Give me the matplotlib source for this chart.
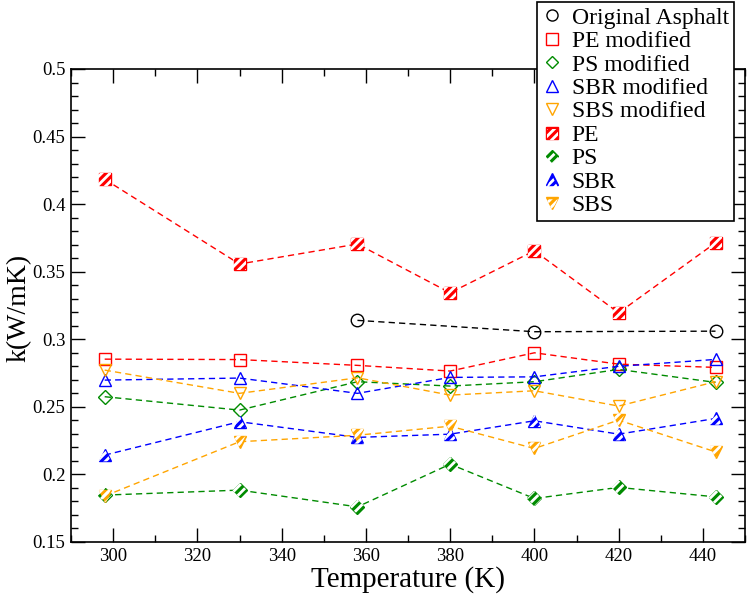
import numpy as np
import matplotlib
matplotlib.use("Agg")
import matplotlib.pyplot as plt
from matplotlib.lines import Line2D
from matplotlib.legend_handler import HandlerTuple
from matplotlib.ticker import MultipleLocator, FuncFormatter

plt.rcParams['font.family'] = ['Liberation Serif', 'DejaVu Serif']
plt.rcParams['hatch.linewidth'] = 2.0
plt.rcParams['hatch.color'] = 'white'

temps = [298, 330, 358, 380, 400, 420, 443]
orig_temps = [358, 400, 443]
orig = [0.314, 0.3056, 0.306]

pe_mod = [0.2853, 0.285, 0.2807, 0.2765, 0.290, 0.2816, 0.2792]
ps_mod = [0.2575, 0.2476, 0.2686, 0.2654, 0.2686, 0.2777, 0.2681]
sbr_mod = [0.2698, 0.2713, 0.260, 0.2718, 0.2722, 0.280, 0.2851]
sbs_mod = [0.2772, 0.260, 0.2715, 0.2587, 0.2619, 0.2506, 0.2686]

pe = [0.4184, 0.3557, 0.3705, 0.3344, 0.3655, 0.3196, 0.3714]
ps = [0.1847, 0.1884, 0.176, 0.2076, 0.1822, 0.1904, 0.1834]
sbr = [0.2143, 0.239, 0.2274, 0.2298, 0.2397, 0.2298, 0.2414]
sbs = [0.184, 0.2242, 0.229, 0.2357, 0.2192, 0.2402, 0.2167]

red = '#ff0000'
green = '#008b00'
blue = '#0000ff'
orange = '#ffa500'

fig = plt.figure(figsize=(7.49, 5.96), dpi=100)
ax = fig.add_axes([71/749, 1-542/596, (745-71)/749, (542-69)/596])

ms = 9
dash = (4.5, 3)
handles = []

# open-symbol series
h, = ax.plot(orig_temps, orig, ls='--', dashes=dash, lw=1, color='black',
             marker='o', ms=ms, mfc='none', mew=1)
handles.append((h, 'Original Asphalt'))
for vals, col, mk, lab in [(pe_mod, red, 's', 'PE modified'),
                           (ps_mod, green, 'D', 'PS modified'),
                           (sbr_mod, blue, '^', 'SBR modified'),
                           (sbs_mod, orange, 'v', 'SBS modified')]:
    m = ms - 1.5 if mk == 'D' else ms
    h, = ax.plot(temps, vals, ls='--', dashes=dash, lw=1, color=col, marker=mk,
                 ms=m, mfc='none', mew=1)
    handles.append((h, lab))

# hatched filled-symbol series
for vals, col, mk, lab in [(pe, red, 's', 'PE'),
                           (ps, green, 'D', 'PS'),
                           (sbr, blue, '^', 'SBR'),
                           (sbs, orange, 'v', 'SBS')]:
    m = ms - 1.5 if mk == 'D' else ms
    ax.plot(temps, vals, ls='--', dashes=dash, lw=1, color=col, marker=mk,
            ms=m, mfc=col, mew=1, zorder=3)
    ax.scatter(temps, vals, marker=mk, s=m**2, facecolor='none',
               edgecolor='white', linewidths=0, hatch='////', zorder=4)
    hl = Line2D([], [], ls='none', color=col, marker=mk, ms=m - 1, mfc=col, mew=1)
    hs = ax.scatter([], [], marker=mk, s=(m - 1)**2, facecolor='none',
                    edgecolor='white', linewidths=0, hatch='////')
    handles.append(((hl, hs), lab))

ax.set_xlim(290, 450)
ax.set_ylim(0.15, 0.5)
ax.xaxis.set_major_locator(MultipleLocator(20))
ax.xaxis.set_minor_locator(MultipleLocator(10))
ax.yaxis.set_major_locator(MultipleLocator(0.05))
ax.yaxis.set_minor_locator(MultipleLocator(0.01))
ax.yaxis.set_major_formatter(FuncFormatter(lambda v, p: '%g' % round(v, 3)))
ax.tick_params(which='both', direction='in', top=True, right=True,
               labelsize=13.5, width=1)
ax.tick_params(which='major', length=10, pad=4)
ax.tick_params(which='minor', length=5)
for s in ax.spines.values():
    s.set_linewidth(1.2)

ax.set_xlabel('Temperature (K)', fontsize=21, labelpad=1)
ax.set_ylabel('k(W/mK)', fontsize=20)
ax.yaxis.set_label_coords(-0.059, 0.495)

leg_handles = []
for hh, lab in handles:
    if isinstance(hh, tuple):
        leg_handles.append(hh)
    else:
        m = ms - 2.5 if hh.get_marker() == 'D' else ms - 1
        leg_handles.append(Line2D([], [], ls='none', color=hh.get_color(),
                                  marker=hh.get_marker(), ms=m,
                                  mfc='none', mew=1))
leg = fig.legend(leg_handles, [lab for _, lab in handles], loc='upper left',
                 bbox_to_anchor=(537/749, 1 - 2/596), borderaxespad=0,
                 fontsize=17, frameon=True, fancybox=False, framealpha=1,
                 edgecolor='black', handlelength=0.85, handletextpad=0.4,
                 labelspacing=0.08, borderpad=0.22,
                 handler_map={tuple: HandlerTuple(ndivide=1)})
leg.get_frame().set_linewidth(1.2)
leg.set_zorder(10)

fig.savefig('out.png', dpi=100)
